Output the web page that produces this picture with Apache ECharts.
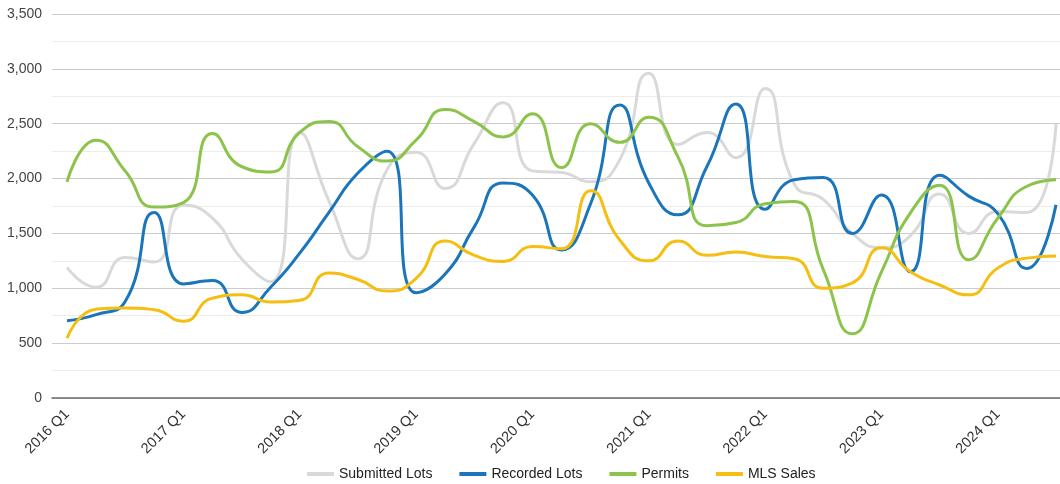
<!DOCTYPE html>
<html>
<head>
<meta charset="utf-8">
<script src="https://cdn.jsdelivr.net/npm/echarts@6/dist/echarts.min.js"></script>
<style>
  html, body { margin: 0; padding: 0; background: #fff; }
  #chart { width: 1060px; height: 484px; }
</style>
</head>
<body>
<div id="chart"></div>
<script>
const quarters = [
  '2016 Q1','2016 Q2','2016 Q3','2016 Q4',
  '2017 Q1','2017 Q2','2017 Q3','2017 Q4',
  '2018 Q1','2018 Q2','2018 Q3','2018 Q4',
  '2019 Q1','2019 Q2','2019 Q3','2019 Q4',
  '2020 Q1','2020 Q2','2020 Q3','2020 Q4',
  '2021 Q1','2021 Q2','2021 Q3','2021 Q4',
  '2022 Q1','2022 Q2','2022 Q3','2022 Q4',
  '2023 Q1','2023 Q2','2023 Q3','2023 Q4',
  '2024 Q1','2024 Q2','2024 Q3'
];
const submittedLots = [
  1190, 1010, 1280, 1240,
  1760, 1640, 1270, 1060,
  2420, 1800, 1270, 2080,
  2240, 1910, 2320, 2690,
  2070, 2055, 1970, 2170,
  2960, 2310, 2420, 2190,
  2820, 1950, 1810, 1500,
  1370, 1480, 1860, 1500,
  1700, 1690, 2500
];
const recordedLots = [
  705, 760, 880, 1690,
  1040, 1070, 780, 1010,
  1320, 1690, 2050, 2250,
  960, 1130, 1560, 1960,
  1850, 1350, 1770, 2670,
  1960, 1670, 2110, 2680,
  1720, 1990, 2010, 1500,
  1850, 1150, 2030, 1840,
  1680, 1180, 1760
];
const permits = [
  1970, 2350, 2070, 1740,
  1780, 2410, 2110, 2060,
  2420, 2520, 2290, 2160,
  2350, 2630, 2520, 2380,
  2590, 2100, 2500, 2330,
  2560, 2200, 1570, 1600,
  1770, 1790, 1170, 585,
  1150, 1690, 1940, 1260,
  1640, 1930, 1990
];
const mlsSales = [
  545, 810, 820, 805,
  700, 910, 940, 875,
  890, 1140, 1080, 975,
  1090, 1430, 1300, 1245,
  1380, 1360, 1890, 1440,
  1250, 1430, 1300, 1330,
  1290, 1270, 1000, 1050,
  1370, 1150, 1030, 940,
  1185, 1275, 1295
];
const yTicks = [0, 500, 1000, 1500, 2000, 2500, 3000, 3500];

const seriesNames = ['Submitted Lots', 'Recorded Lots', 'Permits', 'MLS Sales'];
const seriesData = [submittedLots, recordedLots, permits, mlsSales];
const colors = ['#d9d9d9', '#1b75bb', '#8cc34b', '#f5be12'];

const chart = echarts.init(document.getElementById('chart'), null, { renderer: 'canvas' });
const fontFamily = 'Arial, "Liberation Sans", sans-serif';

const option = {
  animation: false,
  color: colors,
  textStyle: { fontFamily: fontFamily },
  grid: [
    { left: 52, right: 0, top: 14, bottom: 86 },
    { left: 67, right: 4, top: 14, bottom: 86 }
  ],
  legend: {
    left: 302,
    top: 462,
    icon: 'rect',
    itemWidth: 27,
    itemHeight: 4,
    itemGap: 27,
    textStyle: { fontSize: 14, color: '#222', fontFamily: fontFamily },
    data: seriesNames
  },
  xAxis: [
    {
      gridIndex: 0, type: 'value', min: 0, max: 1,
      axisLine: { show: true, onZero: true, lineStyle: { color: '#6a6a6a', width: 1.5 } },
      axisTick: { show: false }, axisLabel: { show: false }, splitLine: { show: false }
    },
    {
      gridIndex: 1, type: 'category', boundaryGap: false, data: quarters,
      axisLine: { show: false }, axisTick: { show: false },
      axisLabel: { interval: 3, rotate: 45, margin: 14, fontSize: 14.5, color: '#333', fontFamily: fontFamily },
      splitLine: { show: false }
    }
  ],
  yAxis: [
    {
      gridIndex: 0, type: 'value', min: yTicks[0], max: yTicks[yTicks.length - 1], interval: yTicks[1] - yTicks[0],
      axisLine: { show: false }, axisTick: { show: false },
      axisLabel: { margin: 10, fontSize: 14, color: '#444', fontFamily: fontFamily,
        formatter: v => v.toLocaleString('en-US') },
      splitLine: { show: true, lineStyle: { color: '#cccccc', width: 1 } },
      minorTick: { show: false, splitNumber: 2 },
      minorSplitLine: { show: true, lineStyle: { color: '#ececec', width: 1 } }
    },
    {
      gridIndex: 1, type: 'value', min: yTicks[0], max: yTicks[yTicks.length - 1],
      show: false, splitLine: { show: false }
    }
  ],
  series: seriesNames.map((name, i) => ({
    name: name,
    type: 'line',
    xAxisIndex: 1,
    yAxisIndex: 1,
    data: seriesData[i],
    smooth: 0.55,
    showSymbol: false,
    symbol: 'none',
    lineStyle: { width: 3, color: colors[i] },
    itemStyle: { color: colors[i] },
    z: 2 + i
  }))
};
chart.setOption(option);
</script>
</body>
</html>
